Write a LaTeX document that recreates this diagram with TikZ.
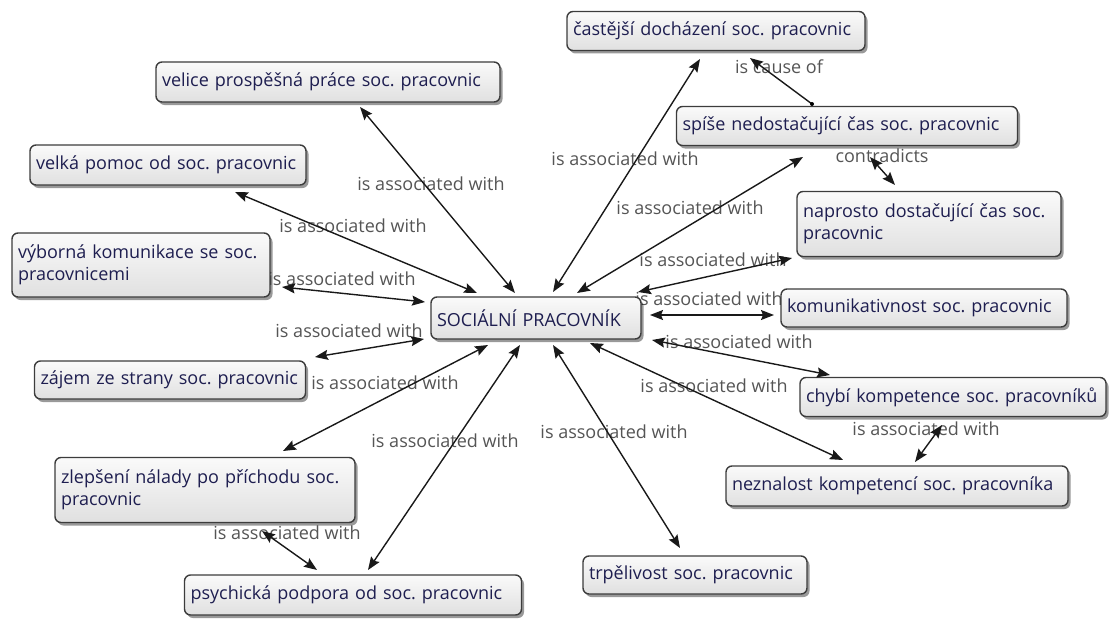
\documentclass[tikz,border=0pt]{standalone}
\usepackage{fontspec}
\setmainfont{Open Sans}
\frenchspacing
\usetikzlibrary{arrows.meta,shadows}
\definecolor{conceptText}{RGB}{30,30,80}
\definecolor{linkText}{RGB}{85,85,85}
\definecolor{boxBorder}{RGB}{60,60,60}
\definecolor{boxTop}{RGB}{250,250,250}
\definecolor{boxBottom}{RGB}{224,224,224}
\tikzset{
  concept/.style={draw=boxBorder, line width=1.4pt, rounded corners=6pt,
    top color=boxTop, bottom color=boxBottom, text=conceptText,
    align=left, inner xsep=6pt, inner ysep=2pt,
    font=\fontsize{18}{22}\selectfont,
    drop shadow={shadow xshift=2.5pt, shadow yshift=-3pt, fill=black, opacity=0.4}},
  linklabel/.style={text=linkText, inner sep=0pt, font=\fontsize{18}{22}\selectfont},
  rel/.style={draw=black!90, line width=1.4pt},
  tipA/.tip={Stealth[length=13pt,width=10pt,inset=2pt]},
  both/.style={rel, tipA-tipA},
  one/.style={rel, -tipA}
}
\begin{document}
\begin{tikzpicture}[x=1pt, y=-1pt]
\useasboundingbox (0,0) rectangle (1118,618);

% linking phrases (drawn first, the connectors pass over them)
\node[linklabel] (lcause) at (779,67) {is cause of};
\node[linklabel] (lcast) at (625,159) {is associated with};
\node[linklabel] (lvel) at (431,184) {is associated with};
\node[linklabel] (lcontra) at (882,156) {contradicts};
\node[linklabel] (lspise) at (690,208) {is associated with};
\node[linklabel] (lvelka) at (353,226) {is associated with};
\node[linklabel] (lnapr) at (713,260) {is associated with};
\node[linklabel] (lvyb) at (342,279) {is associated with};
\node[linklabel] (lkom) at (709,299) {is associated with};
\node[linklabel] (lzaj) at (349,331) {is associated with};
\node[linklabel] (lchyb) at (739,342) {is associated with};
\node[linklabel] (lzlep) at (385,383) {is associated with};
\node[linklabel] (lnezn) at (714,386) {is associated with};
\node[linklabel] (lchn) at (926,429) {is associated with};
\node[linklabel] (ltrp) at (614,432) {is associated with};
\node[linklabel] (lpsy) at (445,441) {is associated with};
\node[linklabel] (lzp) at (287,533) {is associated with};

% concepts
\node[concept, text width=286pt, minimum height=39pt] (castejsi) at (716,31) {\mbox{častější docházení soc. pracovnic}};
\node[concept, text width=332pt, minimum height=40pt] (velice) at (328,82) {\mbox{velice prospěšná práce soc. pracovnic}};
\node[concept, text width=329pt, minimum height=39pt] (spise) at (847,126) {\mbox{spíše nedostačující čas soc. pracovnic}};
\node[concept, text width=264pt, minimum height=40pt] (velka) at (168,165) {\mbox{velká pomoc od soc. pracovnic}};
\node[concept, text width=252pt, minimum height=65pt] (naprosto) at (929,224) {naprosto dostačující čas soc.\\pracovnic};
\node[concept, text width=246pt, minimum height=64pt] (vyborna) at (141,265) {výborná komunikace se soc.\\pracovnicemi};
\node[concept, text width=198pt, minimum height=42pt] (central) at (536,318) {\mbox{SOCIÁLNÍ PRACOVNÍK}};
\node[concept, text width=274pt, minimum height=38pt] (komunik) at (924,308) {\mbox{komunikativnost soc. pracovnic}};
\node[concept, text width=259pt, minimum height=38pt] (zajem) at (170,380) {\mbox{zájem ze strany soc. pracovnic}};
\node[concept, text width=294pt, minimum height=39pt] (chybi) at (953,397) {\mbox{chybí kompetence soc. pracovníků}};
\node[concept, text width=330pt, minimum height=40pt] (neznalost) at (897,486) {\mbox{neznalost kompetencí soc. pracovníka}};
\node[concept, text width=288pt, minimum height=65pt] (zlepseni) at (205,490) {zlepšení nálady po příchodu soc.\\pracovnic};
\node[concept, text width=212pt, minimum height=38pt] (trpelivost) at (695,575) {\mbox{trpělivost soc. pracovnic}};
\node[concept, text width=325pt, minimum height=40pt] (psychicka) at (353,595) {\mbox{psychická podpora od soc. pracovnic}};

% connectors
\draw[both] ([shift={(17,-26)}]central.center) -- ([shift={(-16,28)}]castejsi.center);
\draw[both] ([shift={(-21,-25)}]central.center) -- ([shift={(32,25)}]velice.center);
\draw[both] ([shift={(-59,-25)}]central.center) -- ([shift={(67,27)}]velka.center);
\draw[both] ([shift={(41,-25)}]central.center) -- ([shift={(-44,31)}]spise.center);
\draw[both] ([shift={(102,-26)}]central.center) -- ([shift={(-137,34)}]naprosto.center);
\draw[both] ([shift={(114,-3)}]central.center) -- ([shift={(-150,7)}]komunik.center);
\draw[both] ([shift={(116,22)}]central.center) -- ([shift={(-123,-22)}]chybi.center);
\draw[both] ([shift={(54,25)}]central.center) -- ([shift={(-54,-26)}]neznalost.center);
\draw[both] ([shift={(17,27)}]central.center) -- ([shift={(-15,-27)}]trpelivost.center);
\draw[both] ([shift={(-16,27)}]central.center) -- ([shift={(15,-25)}]psychicka.center);
\draw[both] ([shift={(-48,27)}]central.center) -- ([shift={(78,-39)}]zlepseni.center);
\draw[both] ([shift={(-112,21)}]central.center) -- ([shift={(145,-23)}]zajem.center);
\draw[both] ([shift={(-111,-16)}]central.center) -- ([shift={(141,22)}]vyborna.center);
\draw[one] ([shift={(-35,-22)}]spise.center) -- ([shift={(34,27)}]castejsi.center);
\fill[black] ([shift={(-35,-22)}]spise.center) circle (2pt);
\draw[both] ([shift={(23,31)}]spise.center) -- ([shift={(-34,-39)}]naprosto.center);
\draw[both] ([shift={(-11,28)}]chybi.center) -- ([shift={(18,-24)}]neznalost.center);
\draw[both] ([shift={(57,41)}]zlepseni.center) -- ([shift={(-36,-25)}]psychicka.center);
\end{tikzpicture}
\end{document}
